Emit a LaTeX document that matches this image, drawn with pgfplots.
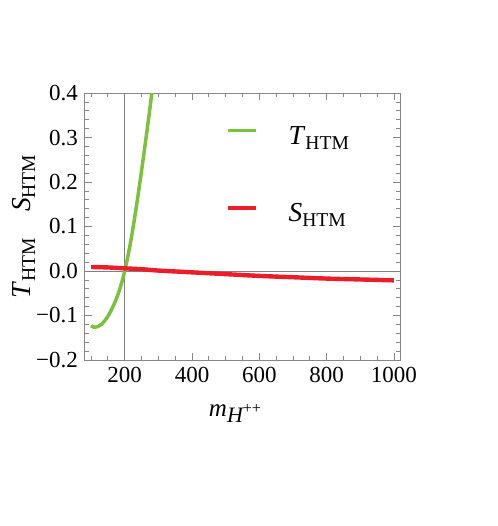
\documentclass[border=0pt]{standalone}
\usepackage{fontspec}
\setmainfont{Liberation Serif}
\usepackage{pgfplots}
\pgfplotsset{compat=1.18}
\definecolor{tgreen}{RGB}{124,193,62}
\definecolor{sred}{RGB}{234,30,42}
\definecolor{framegray}{RGB}{135,135,135}
\newcommand\htm{\raisebox{-2.5pt}{\fontsize{9.8}{10}\selectfont HTM}}
\begin{document}
\begin{tikzpicture}
\useasboundingbox (-42.5pt,-83pt) rectangle (206.5pt,180pt);
\begin{axis}[
  scale only axis, width=157.5pt, height=133.5pt,
  xmin=82, xmax=1018, ymin=-0.2, ymax=0.4,
  axis line style={framegray, line width=0.5pt},
  xtick={200,400,600,800,1000},
  xticklabels={200,400,600,800,1000},
  minor x tick num=3,
  ytick={-0.2,-0.1,0,0.1,0.2,0.3,0.4},
  yticklabels={−0.2,−0.1,0.0,0.1,0.2,0.3,0.4},
  minor y tick num=4,
  extra x ticks={100,150},
  extra x tick labels={},
  extra x tick style={major tick length=2pt},
  tick style={framegray, line width=0.4pt},
  major tick length=3.5pt, minor tick length=2pt,
  tick align=inside,
  ticklabel style={font=\fontsize{11.5}{12}\selectfont, black},
  /pgf/number format/assume math mode=true,
  xlabel={\fontsize{12.5}{13}\selectfont\itshape m\raisebox{-3pt}{\fontsize{11}{11}\selectfont H\raisebox{4.5pt}{\fontsize{8}{8}\selectfont\upshape ++}}},
  xlabel style={at={(axis description cs:0.476,-0.2)}, anchor=center},
  ylabel={\fontsize{13.7}{14}\selectfont\textit{T}\htm\hspace{13pt}\textit{S}\htm},
  ylabel style={at={(axis description cs:-0.195,0.5)}, anchor=center},
  legend style={at={(axis description cs:0.428,0.907)}, anchor=north west, draw=none, fill=none,
    row sep=24pt, column sep=13pt, font=\fontsize{13.7}{14}\selectfont},
  legend cell align=left,
  legend image code/.code={\draw[#1] (0pt,0.3em) -- (14pt,0.3em);},
  clip=true,
]
\addplot[gray, line width=0.4pt, forget plot] coordinates {(200,-0.2) (200,0.4)};
\addplot[gray, line width=0.4pt, forget plot] coordinates {(82,0) (1018,0)};
\addplot[tgreen, line width=1.75pt, smooth] coordinates {
(100,-0.123) (110,-0.1265) (120,-0.125) (130,-0.1205) (140,-0.1125) (150,-0.102)
(160,-0.088) (170,-0.072) (180,-0.0525) (190,-0.029) (200,0.000) (210,0.035)
(220,0.076) (230,0.122) (240,0.172) (250,0.225) (260,0.280) (270,0.337) (280,0.396) (290,0.455)};
\addlegendentry{\textit{T}\htm}
\addplot[sred, line width=2.2pt, smooth] coordinates {
(100,0.009) (150,0.008) (200,0.006) (250,0.004) (300,0.001) (350,-0.001)
(400,-0.003) (500,-0.007) (600,-0.011) (700,-0.014) (800,-0.017) (900,-0.019) (1000,-0.021)};
\addlegendentry{\textit{S}\htm}
\end{axis}
\end{tikzpicture}
\end{document}
